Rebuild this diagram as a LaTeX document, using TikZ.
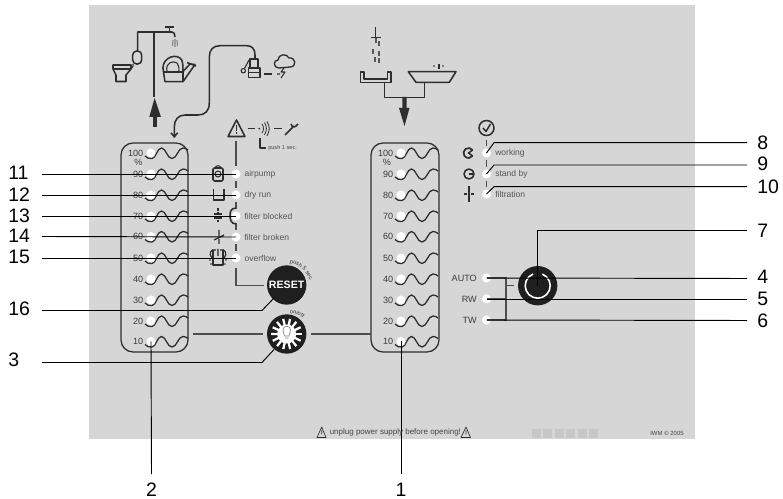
\documentclass[tikz,border=0pt]{standalone}
\usepackage{fontspec}
\setmainfont{Liberation Sans}
\usetikzlibrary{arrows.meta,decorations.text}
\definecolor{panel}{HTML}{D6D6D6}
\definecolor{ink}{HTML}{2E2E2E}
\definecolor{txt}{HTML}{555555}
\tikzset{
  x=0.75pt,y=-0.75pt,
  boxline/.style={draw=ink,line width=0.95pt,rounded corners=9pt},
  waveline/.style={draw=ink,line width=0.95pt},
  led/.style={circle,fill=white,draw=none,minimum size=6.8pt,inner sep=0pt},
  lead/.style={draw=black,line width=0.7pt},
  icon/.style={draw=ink,line width=0.8pt,line join=round},
  thick icon/.style={draw=ink,line width=1.15pt,line join=round},
  seam/.style={draw=ink!85,line width=1pt},
  num/.style={inner sep=0pt,text=black,font=\fontsize{14.6}{15}\selectfont},
  scale num/.style={inner sep=0pt,text=txt!70!black,anchor=east,font=\fontsize{6.8}{7}\selectfont},
  lab/.style={inner sep=0pt,text=txt,anchor=west,font=\fontsize{6.4}{7}\selectfont},
  tiny/.style={inner sep=0pt,text=txt!80!black,font=\fontsize{4.2}{5}\selectfont},
  foot/.style={inner sep=0pt,text=txt!80!black,font=\fontsize{6}{7}\selectfont},
  knob/.style={circle,fill=black!88,draw=none,minimum size=29.5pt,inner sep=0pt},
}
\newcommand{\wavepath}[2]{%
  \draw[waveline,shift={(#1,#2)}] (-6,3) .. controls (-4,5.5) and (-2,5.5) .. (1,5.5)
   .. controls (5,5.5) and (6,-5) .. (10.5,-5)
   .. controls (15,-5) and (16,5.5) .. (21,5.5)
   .. controls (26,5.5) and (27,-5) .. (32,-5)
   .. controls (34,-5) and (36,-4) .. (37,-3);}
\begin{document}
\begin{tikzpicture}
\useasboundingbox (0,0) rectangle (783,499);
\fill[panel] (89,5) rectangle (695,439);

% level columns
\draw[boxline] (121,143) rectangle (188,352);
\draw[boxline] (371,143) rectangle (439,352);
\foreach \yy/\tt/\id in {153/100/100,174/90/90,195/80/80,216/70/70,236.5/60/60,258/50/50,279/40/40,300/30/30,321/20/20,341.5/10/10}{
  \wavepath{151}{\yy}
  \wavepath{401}{\yy}
  \node[led] (L\id) at (151,\yy) {};
  \node[led] (R\id) at (401,\yy) {};
  \node[scale num] at (143.5,\yy) {\tt};
  \node[scale num] at (393.5,\yy) {\tt};
}
\node[scale num,anchor=center] at (138.5,162) {\%};
\node[scale num,anchor=center] at (387,162) {\%};

% top left supply icons
\draw[thick icon] (154,97) -- (154,32);
\draw[thick icon] (137.7,50) -- (137.7,32) -- (172,32) .. controls (174,32) and (175,34) .. (175,37);
\draw[thick icon] (169.3,32) -- (169.3,27) (165,27) -- (173.5,27);
\draw[icon,draw=ink!60] (175,39) -- (175,47) (173,40) -- (172.5,46) (177,40) -- (177.5,46);
\draw[thick icon,rounded corners=3pt] (132.7,51) rectangle (141.7,64);
\draw[icon] (133,64) .. controls (134,67) and (131,69) .. (129,69);
\draw[thick icon] (113,65) -- (131,65) -- (131,69) -- (126,75) -- (126,81.5) -- (116,81.5) -- (116,75) -- (113,69) -- cycle (113,69) -- (131,69);
% watering can
\draw[thick icon] (165,81.7) -- (183,81.7) -- (195,64.5) -- (190,64) -- (183,71.5) -- (183,81.7) (165,81.7) -- (163.5,72) -- (183,72);
\draw[thick icon] (163.5,72) .. controls (160,60) and (173,53) .. (180,58) .. controls (183,60) and (183,65) .. (183,71);
\draw[icon] (167,71) .. controls (165,63) and (173,60) .. (177,63) .. controls (179,65) and (179,68) .. (179,71);
\draw[thick icon] (187,62.5) -- (196,66);
% up arrow
\fill[ink] (152.5,108) rectangle (156.8,127);
\fill[ink] (154.6,98) -- (161,117) -- (149.3,117) -- cycle;

% pump icon and hose
\draw[thick icon,-{Straight Barb[length=3pt,width=5pt]}] (255,59) -- (255,55) .. controls (255,49) and (252,45.7) .. (247,45.7) -- (220,45.7)
  .. controls (213,45.7) and (209.3,50) .. (209.3,57) -- (209.3,103) .. controls (209.3,111) and (205,115) .. (198,115) -- (185,115)
  .. controls (178,115) and (174.3,120) .. (174.3,127) -- (174.3,138);
\draw[thick icon] (250,59) -- (258,59) -- (258,68) -- (250,68) -- cycle;
\draw[thick icon] (248.3,68) rectangle (260,77.5);
\draw[fill=ink,draw=none] (249,72) rectangle (259,73.5);
\draw[icon] (243.3,70.7) circle[radius=2.2];
\draw[icon] (244.5,68.5) -- (249,60);
\draw[thick icon] (264,74) -- (272,74);
\draw[icon,line width=1pt] (279,68) .. controls (273,68) and (273,60) .. (278,60) .. controls (278,54) and (287,53) .. (289,58) .. controls (296,57) and (297,67) .. (290,67) -- cycle;
\draw[icon] (284,68) -- (281,72) -- (285,72) -- (281,78) (277,74) -- (280,74);

% alarm header
\draw[thick icon] (236.5,120) -- (245,136.5) -- (228,136.5) -- cycle;
\draw[icon] (236.5,125.5) -- (236.5,131) (236.5,132.5) -- (236.5,134.5);
\draw[thick icon] (248,128.7) -- (255,128.7) (274,128.7) -- (282,128.7);
\fill[ink] (259.3,128.7) circle[radius=1];
\draw[icon,line width=0.6pt] (262,124) .. controls (264,127) and (264,130) .. (262,133)
 (264.5,122.5) .. controls (267,127) and (267,130) .. (264.5,135)
 (267,121.5) .. controls (270,127) and (270,130) .. (267,136);
\draw[thick icon] (285,135) -- (294,126) (291,124) .. controls (292,128) and (295,128) .. (298,124);
\draw[thick icon] (260,138) -- (260,148) -- (266,148);
\node[tiny,anchor=west] (p1) at (268,148) {push 1 sec.};

% alarm column
\draw[seam] (236,141) -- (236,166);
\foreach \a/\b in {181/188,202/209,223/230,244/251}{\draw[seam] (236,\a) -- (236,\b);}
\draw[seam] (236,268) -- (236,285.7) -- (264,285.7);
\foreach \yy/\nm/\id in {174/airpump/a,195/dry run/b,216/filter blocked/c,237/filter broken/d,258/overflow/e}{
  \node[led] (A\id) at (236,\yy) {};
  \node[lab] at (244.3,\yy) {\nm};
}
% alarm icons
\draw[thick icon,rounded corners=1pt] (213,168) rectangle (223,181);
\draw[icon] (218,174) circle[radius=3] (215,168) .. controls (216,165) and (220,165) .. (221,168);
\draw[thick icon] (213.5,189) -- (213.5,200) -- (224,200) -- (224,189);
\draw[icon,dashed,dash pattern=on 2pt off 1pt,line width=1.2pt] (218,208) -- (218,222);
\draw[icon] (214,214) -- (222,214) (214,218) -- (222,218);
\draw[thick icon] (236,208) .. controls (230,208) and (230,213) .. (230,216) .. controls (230,219) and (231,224) .. (236,224);
\draw[icon,line width=1pt] (219,230) -- (219,236) (219,239) -- (219,244) (214,240) -- (224,235);
\draw[thick icon] (213,250) -- (213,265) -- (223,265) -- (223,250);
\draw[icon,line width=0.9pt] (212,258) .. controls (208,254) and (211,248) .. (216,250) (224,258) .. controls (228,254) and (225,248) .. (220,250) (218,256) -- (218,249);
\fill[ink] (210,260) circle[radius=.8] (226,260) circle[radius=.8] (211,264) circle[radius=.8] (225,264) circle[radius=.8];

% reset knob
\node[knob] (reset) at (286.7,285) {};
\node[inner sep=0pt,text=white,font=\fontsize{8}{8}\selectfont\bfseries] at (reset) {RESET};
\path[decorate,decoration={text along path,text align=center,text={|\fontsize{4.2}{5}\selectfont\color{ink}|push 5 sec.}}]
  (290,263.5) .. controls (298,264.5) and (306,270) .. (310,281);
% light knob
\node[knob] (light) at (286.7,334) {};
\foreach \a in {0,25.7,...,340}{\draw[white,line width=1.7pt] (light.center) -- ++(\a:15.5);}
\fill[white] (light.center) circle[radius=9.5];
\draw[icon,draw=black!50,line width=0.5pt] (284.5,336) .. controls (284,333) and (283,332) .. (283,330) .. controls (283,325) and (290.5,325) .. (290.5,330) .. controls (290.5,332) and (289.5,333) .. (289,336) -- cycle (285,338) -- (288.5,338);
\path[decorate,decoration={text along path,text align=center,text={|\fontsize{4.2}{5}\selectfont\color{ink}|on/off}}]
  (288,313) .. controls (293,313) and (299,315) .. (304,319);
\coordinate (boxL) at (192.7,334);
\coordinate (lightW) at (263,334);
\coordinate (lightE) at (311,334);
\coordinate (boxR) at (371,334);
\draw[seam] (boxL) -- (lightW);
\draw[seam] (lightE) -- (boxR);

% top right drain icons
\draw[thick icon] (375.7,27) -- (375.7,40) (370.7,37.3) -- (380.7,37.3);
\foreach \p/\q in {375.7/41,378.7/44,373/52,379/54,375/60,379/61}{\fill[ink!80] (\p-1,\q-2.5) rectangle (\p+1,\q+2.5);}
\draw[thick icon] (360.7,72) -- (360.7,82.3) -- (391,82.3) -- (391,72) -- (387.7,72) -- (387.7,79) -- (364,79) -- (364,72) -- cycle;
\draw[thick icon] (408.3,71.7) -- (456,71.7) -- (449.3,82.3) -- (416,82.3) -- cycle;
\fill[ink] (434,66) circle[radius=.9] (443,66) circle[radius=.9];
\fill[ink] (437.5,64) rectangle (439.5,69);
\draw[thick icon] (384.3,82.3) -- (384.3,97.3) -- (424.3,97.3) -- (424.3,82.3);
\fill[ink] (402.3,97) -- (406.7,97) -- (406.7,108) -- (409.5,108) -- (404.5,126) -- (399,108) -- (402.3,108) -- cycle;

% status column
\draw[thick icon] (486.5,128) circle[radius=7.5];
\draw[thick icon] (483,128) -- (486,131.5) -- (490.5,124);
\foreach \a/\b in {140/146,160/167,181/187}{\draw[seam] (486.5,\a) -- (486.5,\b);}
\foreach \yy/\nm/\id in {153/working/w,174/stand by/s,194/filtration/f}{
  \node[led] (S\id) at (486.5,\yy) {};
  \node[lab] at (495,\yy) {\nm};
}
\draw[draw=ink,line width=1.3pt] (468.5,153) ++(-35:5) arc[start angle=-35,end angle=-325,radius=5];
\draw[thick icon] (472.6,150.1) -- (468.5,153) -- (472.6,155.9);
\draw[thick icon] (469,174) circle[radius=5] (469,174) -- (474,174);
\draw[icon] (469,186) -- (469,202) (464,194) -- (467,194) (471,194) -- (474,194);

% mode selector
\foreach \yy/\nm/\id in {278/AUTO/auto,299/RW/rw,320/TW/tw}{
  \node[led] (M\id) at (486.5,\yy) {};
  \node[scale num] at (477,\yy) {\nm};
}
\draw[seam] (487,278) -- (506,278) -- (506,320) -- (487,320) (487,299) -- (506,299) (507,285.7) -- (514,285.7);
\node[knob] (power) at (537.7,285.7) {};
\draw[white,line width=1.2pt] (power.center) ++(-68:12.5) arc[start angle=-68,end angle=248,radius=12.5];
\draw[white,line width=1pt] (537.7,269) -- (537.7,279);

% leaders
\foreach \id/\yy/\ly/\src in {11/174/173/a,12/195/195/b,13/216/216/c,14/236.5/236/d,15/258/257/e}{
  \coordinate (s\id) at (42,\yy);
  \node[num,anchor=west] (n\id) at (8,\ly) {\id};
  \draw[lead] (s\id) -- (A\src.center);
}
\node[num,anchor=west] (n16) at (8,309) {16};
\node[num,anchor=west] (n3) at (8,360) {3};
\coordinate (s16) at (42,310.5);
\coordinate (s3) at (42,362.5);
\coordinate (k16) at (262,310.5);
\coordinate (k3) at (262,362.5);
\coordinate (t16) at (274,298);
\coordinate (t3) at (274,349.5);
\draw[lead] (s16) -- (k16) -- (t16);
\draw[lead] (s3) -- (k3) -- (t3);

\node[num] (n2) at (151.5,490) {2};
\node[num] (n1) at (401,490) {1};
\coordinate (e2) at (151.5,474);
\coordinate (e1) at (401,474);
\draw[lead] (L10.center) -- (e2);
\draw[lead] (R10.center) -- (e1);

\foreach \id/\ly in {8/143,9/164,10/187,7/231,4/277,5/299,6/321}{
  \node[num,anchor=west] (n\id) at (757,\ly) {\id};
}
\foreach \id/\yy in {8/142.7,9/165,10/186.7,7/230.7,4/278.5,5/299,6/320.5}{
  \coordinate (e\id) at (747,\yy);
}
\coordinate (b8) at (494,142.7);
\coordinate (b9) at (494,165);
\coordinate (b10) at (494,186.7);
\draw[lead] (Sw.center) -- (b8) -- (e8);
\draw[lead] (Ss.center) -- (b9) -- (e9);
\draw[lead] (Sf.center) -- (b10) -- (e10);
\coordinate (k7) at (537.7,230.7);
\draw[lead] (power.center) -- (k7) -- (e7);
\draw[lead] (Mauto.center) -- (e4);
\draw[lead] (Mrw.center) -- (e5);
\draw[lead] (Mtw.center) -- (e6);

% foot line
\draw[icon,line width=0.5pt] (321.7,427) -- (326,437.5) -- (317,437.5) -- cycle (321.7,430.5) -- (321.7,434.5);
\draw[icon,line width=0.5pt] (466,427) -- (470.5,437.5) -- (461,437.5) -- cycle (466,430.5) -- (466,434.5);
\node[foot,anchor=west] at (329.5,432.7) {unplug power supply before opening!};
\foreach \i in {0,1,2,3,4,5}{\fill[black!22] (532+\i*11.4,429) rectangle ++(9,9);}
\node[tiny,anchor=east,font=\fontsize{4.5}{5}\selectfont] at (684,433) {IWM © 2005};
\end{tikzpicture}
\end{document}
